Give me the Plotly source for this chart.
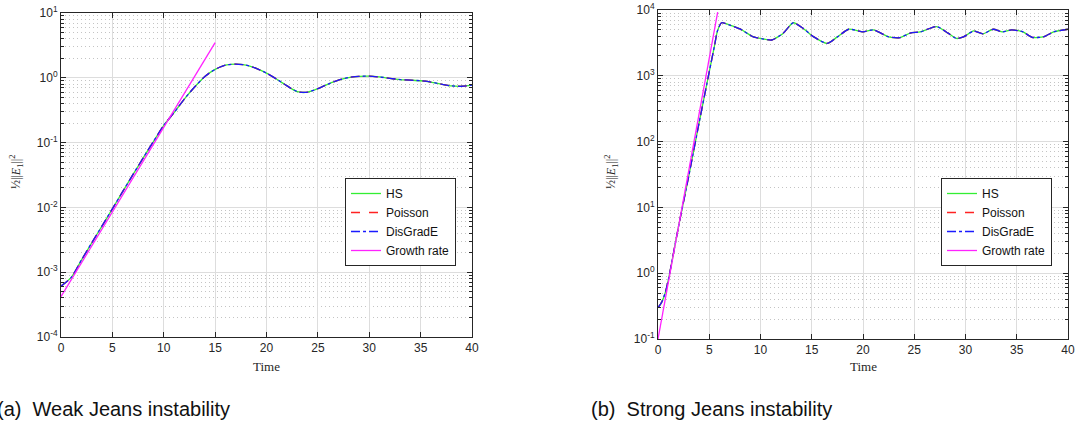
import plotly.graph_objects as go

# ---------------- data ----------------
# (a) Weak Jeans instability
t_weak = list(range(0, 41))
energy_weak = [6.1e-4, 8.3e-4, 1.55e-3, 2.85e-3, 5.2e-3, 9.5e-3, 1.75e-2, 3.2e-2, 5.8e-2, 0.104,
               0.185, 0.29, 0.47, 0.72, 1.05, 1.35, 1.57, 1.63, 1.57, 1.40,
               1.18, 0.95, 0.75, 0.61, 0.60, 0.68, 0.80, 0.92, 1.01, 1.05,
               1.06, 1.03, 0.98, 0.94, 0.92, 0.90, 0.86, 0.80, 0.75, 0.74, 0.77]
t_growth_weak = [0, 15]
growth_weak = [4.2e-4, 3.5]

# (b) Strong Jeans instability
t_strong = [0, 0.35, 0.7, 1.0, 1.3, 2.0, 3.0, 4.0, 5.0, 5.5, 5.8, 6.2, 7.0, 8.0, 9.3, 10.2, 11.1,
            12.2, 13.2, 14.2, 15.2, 16.5, 17.5, 18.6, 20.0, 21.0, 22.5, 23.6, 24.6, 25.6,
            27.2, 28.3, 29.1, 29.8, 30.8, 31.7, 32.7, 33.6, 34.5, 35.6, 36.5, 37.6, 38.6, 40.0]
energy_strong = [0.30, 0.36, 0.50, 0.78, 1.35, 5.1, 30, 190, 1150, 2800, 4800, 6400, 5900, 5150,
                 3900, 3650, 3500, 4400, 6400, 5200, 3900, 3100, 3900, 5100, 4650, 5000, 3900,
                 3800, 4450, 4650, 5600, 4450, 3700, 3900, 4800, 4350, 5100, 4650, 5000, 4650,
                 3850, 3900, 4650, 5100]
t_growth_strong = [0, 5.82]
growth_strong = [0.1, 9300]

x_ticks = [0, 5, 10, 15, 20, 25, 30, 35, 40]
weak_exps = [-4, -3, -2, -1, 0, 1]
strong_exps = [-1, 0, 1, 2, 3, 4]

series_names = ["HS", "Poisson", "DisGradE", "Growth rate"]
series_colors = ["#33ee33", "#ff2222", "#1a1aff", "#ff22ff"]
series_dash = ["solid", "dash", "dashdot", "solid"]

# ---------------- figure ----------------
W, H = 1080, 424
fig = go.Figure()

def add_panel(t, e, tg, g, xa, ya, legend):
    for i, name in enumerate(series_names[:3]):
        fig.add_trace(go.Scatter(x=t, y=e, mode="lines", name=name,
                                 line=dict(color=series_colors[i], dash=series_dash[i],
                                           width=1.3, shape="spline", smoothing=0.6),
                                 xaxis=xa, yaxis=ya, legend=legend))
    fig.add_trace(go.Scatter(x=tg, y=g, mode="lines", name=series_names[3],
                             line=dict(color=series_colors[3], width=1.3),
                             xaxis=xa, yaxis=ya, legend=legend))

add_panel(t_weak, energy_weak, t_growth_weak, growth_weak, "x", "y", "legend")
add_panel(t_strong, energy_strong, t_growth_strong, growth_strong, "x2", "y2", "legend2")

axis_color = "#262626"
tick_font = dict(family="Liberation Sans, Arial, sans-serif", size=12, color=axis_color)

def minor_vals(exps):
    vals = []
    for p in exps[:-1]:
        for k in range(2, 10):
            vals.append(k * 10 ** p)
    return vals

def xaxis_cfg(domain, anchor):
    return dict(domain=domain, anchor=anchor, range=[0, 40], tickvals=x_ticks,
                ticktext=[str(v) for v in x_ticks], showline=True, linecolor=axis_color,
                linewidth=1, mirror="ticks", ticks="inside", ticklen=5, tickcolor=axis_color,
                showgrid=True, gridcolor="#dddddd", gridwidth=1, zeroline=False,
                tickfont=tick_font, automargin=False, fixedrange=True)

def yaxis_cfg(domain, anchor, exps):
    return dict(domain=domain, anchor=anchor, type="log", range=[exps[0], exps[-1]],
                tickvals=[10 ** p for p in exps],
                ticktext=["10<sup>%d</sup>" % p for p in exps],
                showline=True, linecolor=axis_color, linewidth=1, mirror="ticks",
                ticks="inside", ticklen=5, tickcolor=axis_color,
                showgrid=True, gridcolor="#dddddd", gridwidth=1, zeroline=False,
                tickfont=tick_font, automargin=False, fixedrange=True,
                minor=dict(tickmode="array", tickvals=minor_vals(exps), ticks="inside",
                           ticklen=3, tickcolor=axis_color, showgrid=True,
                           gridcolor="#c4c4c4", griddash="1px,3px", gridwidth=1))

legend_font = dict(family="Liberation Sans, Arial, sans-serif", size=12, color="#111111")
fig.update_layout(
    width=W, height=H,
    margin=dict(l=0, r=0, t=0, b=0),
    paper_bgcolor="white", plot_bgcolor="white",
    xaxis=xaxis_cfg([61 / W, 472 / W], "y"),
    yaxis=yaxis_cfg([1 - 337 / H, 1 - 13 / H], "x", weak_exps),
    xaxis2=xaxis_cfg([658 / W, 1068 / W], "y2"),
    yaxis2=yaxis_cfg([1 - 339 / H, 1 - 10 / H], "x2", strong_exps),
    legend=dict(x=345 / W, y=1 - 178 / H, xanchor="left", yanchor="top",
                bgcolor="white", bordercolor=axis_color, borderwidth=1,
                font=legend_font, tracegroupgap=0, itemwidth=30),
    legend2=dict(x=941 / W, y=1 - 178 / H, xanchor="left", yanchor="top",
                 bgcolor="white", bordercolor=axis_color, borderwidth=1,
                 font=legend_font, tracegroupgap=0, itemwidth=30),
    showlegend=True,
)

serif = "Liberation Serif, Times New Roman, serif"
ylabel = "½||<i>E</i><sub>1</sub>||<sup>2</sup>"
annotations = [
    dict(text="Time", x=266 / W, y=1 - 366 / H, xref="paper", yref="paper",
         showarrow=False, font=dict(family=serif, size=13, color=axis_color),
         xanchor="center", yanchor="middle"),
    dict(text="Time", x=863 / W, y=1 - 366 / H, xref="paper", yref="paper",
         showarrow=False, font=dict(family=serif, size=13, color=axis_color),
         xanchor="center", yanchor="middle"),
    dict(text=ylabel, x=16 / W, y=1 - 172 / H, xref="paper", yref="paper",
         showarrow=False, textangle=-90, font=dict(family=serif, size=12, color=axis_color),
         xanchor="center", yanchor="middle"),
    dict(text=ylabel, x=611 / W, y=1 - 172 / H, xref="paper", yref="paper",
         showarrow=False, textangle=-90, font=dict(family=serif, size=12, color=axis_color),
         xanchor="center", yanchor="middle"),
    dict(text="(a)  Weak Jeans instability", x=-5 / W, y=1 - 409 / H, xref="paper",
         yref="paper", showarrow=False, xanchor="left", yanchor="middle",
         font=dict(family="Liberation Sans, Arial, sans-serif", size=20, color="#111111")),
    dict(text="(b)  Strong Jeans instability", x=589 / W, y=1 - 409 / H, xref="paper",
         yref="paper", showarrow=False, xanchor="left", yanchor="middle",
         font=dict(family="Liberation Sans, Arial, sans-serif", size=20, color="#111111")),
]
fig.update_layout(annotations=annotations)

fig.write_html("out.html", config={"displayModeBar": False})
